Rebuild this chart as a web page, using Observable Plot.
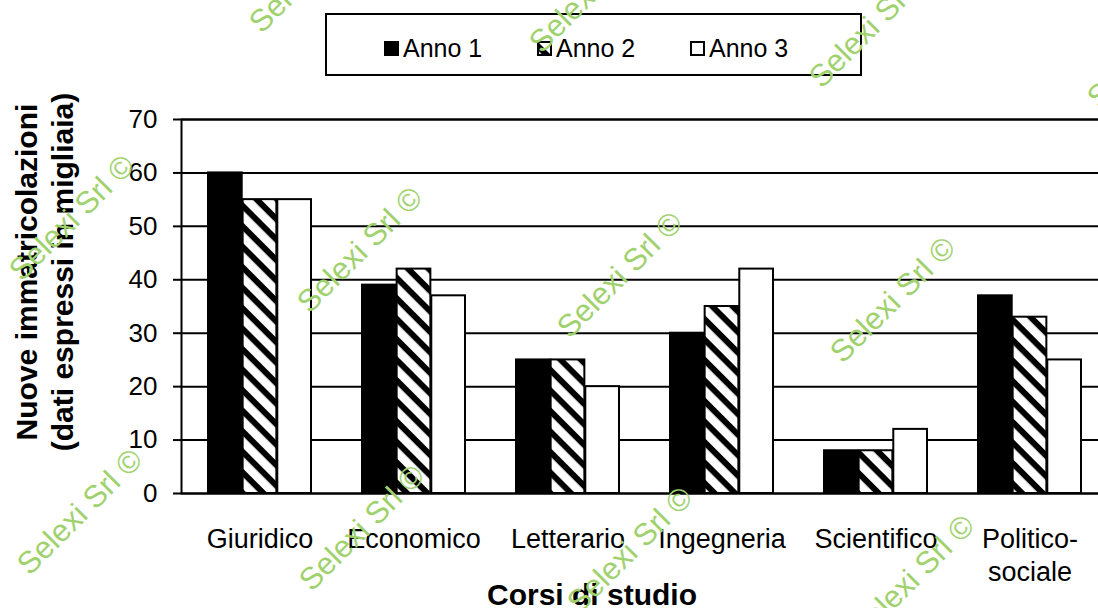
<!DOCTYPE html>
<html>
<head>
<meta charset="utf-8">
<script src="https://cdn.jsdelivr.net/npm/d3@7"></script>
<script src="https://cdn.jsdelivr.net/npm/@observablehq/plot@0.6"></script>
<style>
  html, body { margin: 0; padding: 0; background: #fff; overflow: hidden; }
  #wrap { position: relative; width: 1098px; height: 608px; overflow: hidden; font-family: "Liberation Sans", Arial, sans-serif; color: #000; }
  #chart { position: absolute; left: 0; top: 0; width: 1109px; }
  #chart svg { max-width: none !important; }
  #legend { position: absolute; left: 325px; top: 13px; width: 537px; height: 63px; box-sizing: border-box; border: 2px solid #000; background: #fff; }
  .item { position: absolute; top: 19px; height: 28px; display: flex; align-items: center; font-size: 25px; line-height: 28px; white-space: nowrap; }
  .item svg { margin-right: 4px; }
  #ytitle { position: absolute; left: 45px; top: 272px; transform: translate(-50%, -50%) rotate(-90deg); font-weight: bold; font-size: 30px; line-height: 36px; text-align: center; white-space: nowrap; }
  #xtitle { position: absolute; left: 592px; top: 580px; transform: translateX(-50%); font-weight: bold; font-size: 30px; line-height: 30px; white-space: nowrap; }
  .wm { position: absolute; transform: translate(-50%, -50%) rotate(-45deg); color: #9fd26e; font-size: 31px; white-space: nowrap; pointer-events: none; font-family: "Liberation Sans", Arial, sans-serif; }
</style>
</head>
<body>
<svg width="0" height="0" style="position:absolute">
  <defs>
    <pattern id="stripes" patternUnits="userSpaceOnUse" width="14.5" height="14.5" patternTransform="rotate(45)">
      <rect width="14.5" height="14.5" fill="white"></rect>
      <rect width="14.5" height="6" fill="black"></rect>
    </pattern>
  </defs>
</svg>
<div id="wrap">
  <div id="chart"></div>
  <div id="legend"></div>
  <div id="ytitle"></div>
  <div id="xtitle"></div>
</div>
<script>
// ---- data ----
const categories = ["Giuridico", "Economico", "Letterario", "Ingegneria", "Scientifico", "Politico-sociale"];
const series = ["Anno 1", "Anno 2", "Anno 3"];
const anno1 = [60, 39, 25, 30, 8, 37];
const anno2 = [55, 42, 25, 35, 8, 33];
const anno3 = [55, 37, 20, 42, 12, 25];
const yTicks = [0, 10, 20, 30, 40, 50, 60, 70];
const yTitle = ["Nuove immatricolazioni", "(dati espressi in migliaia)"];
const xTitle = "Corsi di studio";
const watermark = "Selexi Srl ©";

// ---- layout ----
const W = 1109, H = 608, mL = 181, mR = 0, mT = 119, mB = 115;
const padIn = 0.328, padOut = 0.164;
const step = (W - mL - mR) / (categories.length - padIn + 2 * padOut);
const bw = step * (1 - padIn);
const sub = bw / series.length;
const fills = ["black", "url(#stripes)", "white"];
const values = [anno1, anno2, anno3];

const barMarks = series.map((s, k) =>
  Plot.barY(
    categories.map((c, i) => ({category: c, series: s, value: values[k][i]})),
    {
      x: "category", y: "value",
      fill: fills[k], stroke: "black", strokeWidth: 2,
      insetLeft: k * sub, insetRight: (series.length - 1 - k) * sub
    }
  )
);

const chart = Plot.plot({
  width: W, height: H,
  marginLeft: mL, marginRight: mR, marginTop: mT, marginBottom: mB,
  style: {fontFamily: "'Liberation Sans', Arial, sans-serif", fontSize: "26px", color: "black", background: "transparent", maxWidth: "none"},
  x: {domain: categories, paddingInner: padIn, paddingOuter: padOut, label: null},
  y: {domain: [0, 70], label: null},
  marks: [
    Plot.gridY(yTicks, {stroke: "black", strokeOpacity: 1, strokeWidth: 2}),
    ...barMarks,
    Plot.frame({stroke: "black", strokeWidth: 2}),
    Plot.axisY(yTicks, {tickSize: 8, tickPadding: 16, fontSize: 26, strokeWidth: 2, label: null}),
    Plot.axisX({tickSize: 0, tickPadding: 31, fontSize: 27, lineHeight: 1.22,
      tickFormat: d => d.replace("-", "-\n"), label: null})
  ]
});
chart.style.maxWidth = "none";
document.getElementById("chart").appendChild(chart);

// ---- legend ----
const legend = document.getElementById("legend");
series.forEach((s, k) => {
  const it = document.createElement("div");
  it.className = "item";
  it.style.left = (57 + k * 153) + "px";
  it.innerHTML = `<svg width="15" height="15"><rect x="1" y="1" width="13" height="13" fill="${fills[k]}" stroke="black" stroke-width="2"></rect></svg><span>${s}</span>`;
  legend.appendChild(it);
});

// ---- titles ----
document.getElementById("ytitle").innerHTML = yTitle.join("<br>");
document.getElementById("xtitle").textContent = xTitle;

// ---- watermarks ----
const wmCenters = [[312, -30], [592, -10], [872, 25], [1150, 45],
                   [72, 218], [360, 250], [620, 275], [893, 300],
                   [80, 512], [362, 528], [630, 550], [912, 578]];
const wrap = document.getElementById("wrap");
wmCenters.forEach(([x, y]) => {
  const d = document.createElement("div");
  d.className = "wm";
  d.style.left = x + "px";
  d.style.top = y + "px";
  d.textContent = watermark;
  wrap.appendChild(d);
});
</script>
</body>
</html>
